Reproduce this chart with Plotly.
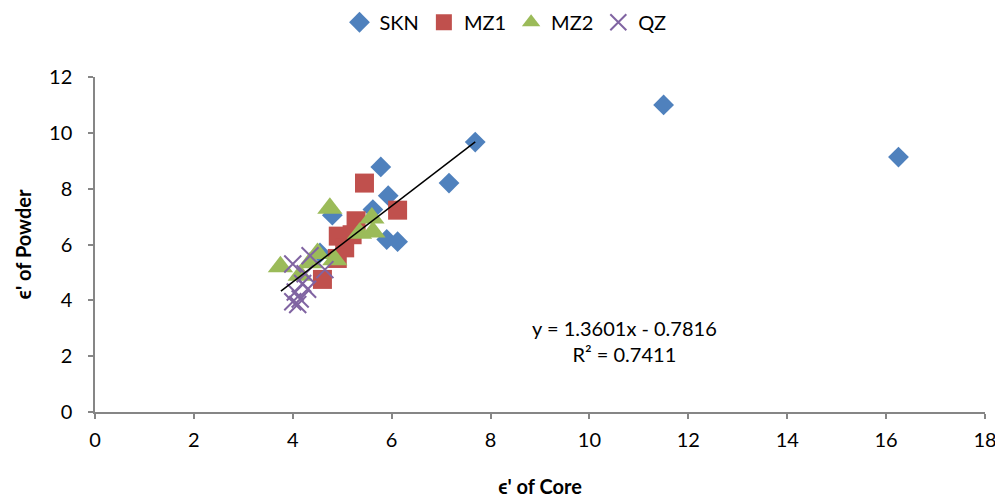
import plotly.graph_objects as go

# Data
skn_x = [11.5, 16.25, 7.69, 7.16, 5.78, 5.93, 5.62, 4.8, 5.9, 6.12, 4.55]
skn_y = [11.0, 9.13, 9.67, 8.2, 8.78, 7.75, 7.25, 7.05, 6.18, 6.1, 5.7]

mz1_x = [5.45, 6.12, 5.28, 4.92, 5.2, 5.05, 4.9, 4.6]
mz1_y = [8.2, 7.23, 6.85, 6.3, 6.35, 5.88, 5.5, 4.75]

mz2_x = [4.75, 5.6, 5.35, 5.62, 3.75, 4.5, 4.85, 4.35, 4.15]
mz2_y = [7.3, 6.95, 6.4, 6.45, 5.2, 5.68, 5.45, 5.35, 4.9]

qz_x = [4.0, 4.35, 4.65, 4.25, 4.2, 4.05, 4.15, 4.0, 4.1, 4.3]
qz_y = [5.3, 5.6, 5.1, 4.95, 4.6, 4.3, 4.05, 3.95, 3.85, 4.4]

slope = 1.3601
intercept = -0.7816
r2 = 0.7411
trend_x = [3.76, 7.69]
trend_y = [slope * v + intercept for v in trend_x]

x_ticks = [0, 2, 4, 6, 8, 10, 12, 14, 16, 18]
y_ticks = [0, 2, 4, 6, 8, 10, 12]

FONT = "Lato"

fig = go.Figure()
fig.add_trace(go.Scatter(x=skn_x, y=skn_y, mode="markers", name="SKN",
                         marker=dict(symbol="diamond", size=16, color="#4F81BD")))
fig.add_trace(go.Scatter(x=mz1_x, y=mz1_y, mode="markers", name="MZ1",
                         marker=dict(symbol="square", size=19, color="#C0504D")))
fig.add_trace(go.Scatter(x=mz2_x, y=mz2_y, mode="markers", name="MZ2",
                         marker=dict(symbol="triangle-up", size=22, color="#9BBB59")))
fig.add_trace(go.Scatter(x=qz_x, y=qz_y, mode="markers", name="QZ",
                         marker=dict(symbol="x-thin", size=17, color="#8064A2",
                                     line=dict(width=2, color="#8064A2"))))
fig.add_trace(go.Scatter(x=trend_x, y=trend_y, mode="lines", showlegend=False,
                         line=dict(color="black", width=1.5)))

fig.add_annotation(x=10.7, y=2.55, xref="x", yref="y",
                   text=f"y = {slope}x - {abs(intercept)}<br>R² = {r2}",
                   showarrow=False, font=dict(family=FONT, size=20, color="black"),
                   align="center")

axis_common = dict(showgrid=False, zeroline=False, showline=True, automargin=False,
                   linecolor="#868686", linewidth=1.5, ticks="outside",
                   tickcolor="#868686", ticklen=5, tickwidth=1.5,
                   tickfont=dict(family=FONT, size=20, color="black"))

fig.update_xaxes(range=[0, 18], tickvals=x_ticks, ticklabelstandoff=4, **axis_common,
                 title=dict(text="ϵ' of Core", font=dict(family=FONT, size=20, color="black", weight="bold"),
                            standoff=30))
fig.update_yaxes(range=[0, 12], tickvals=y_ticks, ticklabelstandoff=12, **axis_common,
                 title=dict(text="ϵ' of Powder", font=dict(family=FONT, size=20, color="black", weight="bold"),
                            standoff=12))

fig.update_layout(
    width=995, height=492,
    margin=dict(l=87, r=18, t=69, b=88),
    plot_bgcolor="white", paper_bgcolor="white",
    font=dict(family=FONT, color="black"),
    legend=dict(orientation="h", xref="container", yref="container",
                x=0.5, y=0.971, xanchor="center", yanchor="middle",
                font=dict(family=FONT, size=20, color="black"),
                itemwidth=30, tracegroupgap=0),
)

fig.write_html("out.html")
